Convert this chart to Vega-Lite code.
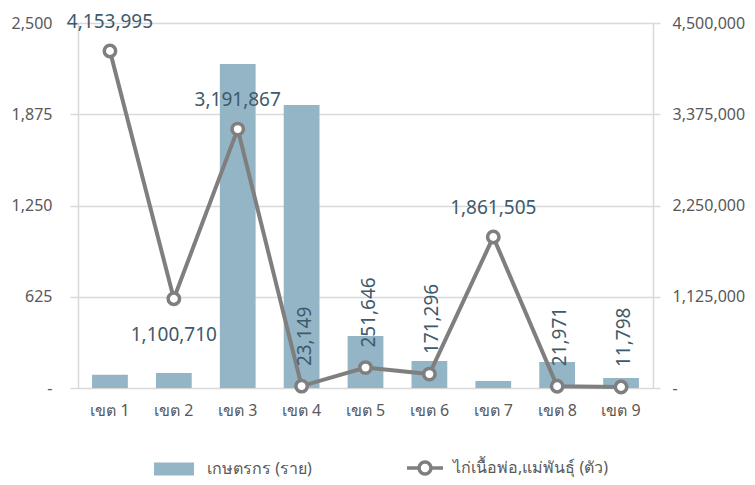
{
  "$schema": "https://vega.github.io/schema/vega-lite/v6.json",
  "autosize": "none",
  "width": 575,
  "height": 365,
  "padding": {"left": 78, "top": 23, "right": 102, "bottom": 97},
  "background": "white",
  "config": {
    "font": "Noto Sans",
    "view": {"stroke": null},
    "axis": {"labelFont": "Noto Sans", "labelColor": "#595959", "labelFontSize": 16}
  },
  "data": {
    "values": [
      {"region": "เขต 1", "farmers": 90, "chickens": 4153995, "pos": "above"},
      {"region": "เขต 2", "farmers": 103, "chickens": 1100710, "pos": "below"},
      {"region": "เขต 3", "farmers": 2220, "chickens": 3191867, "pos": "above"},
      {"region": "เขต 4", "farmers": 1938, "chickens": 23149, "pos": "vertical"},
      {"region": "เขต 5", "farmers": 356, "chickens": 251646, "pos": "vertical"},
      {"region": "เขต 6", "farmers": 185, "chickens": 171296, "pos": "vertical"},
      {"region": "เขต 7", "farmers": 48, "chickens": 1861505, "pos": "above"},
      {"region": "เขต 8", "farmers": 178, "chickens": 21971, "pos": "vertical"},
      {"region": "เขต 9", "farmers": 68, "chickens": 11798, "pos": "vertical"}
    ]
  },
  "encoding": {
    "x": {
      "field": "region", "type": "nominal", "sort": null, "title": null,
      "scale": {"paddingInner": 0.44, "paddingOuter": 0.22},
      "axis": {"domain": false, "ticks": false, "labelAngle": 0, "labelPadding": 14, "labelFontSize": 16}
    }
  },
  "layer": [
    {
      "mark": {"type": "bar"},
      "encoding": {
        "y": {
          "field": "farmers", "type": "quantitative", "title": null,
          "scale": {"domain": [0, 2500], "nice": false},
          "axis": {
            "orient": "left", "values": [0, 625, 1250, 1875, 2500],
            "labelExpr": "datum.value == 0 ? '-' : format(datum.value, ',')",
            "grid": true, "gridColor": "#d9d9d9", "gridWidth": 1.5,
            "domain": true, "domainColor": "#d9d9d9", "domainWidth": 1.5,
            "ticks": true, "tickSize": 8, "tickColor": "#d9d9d9", "tickWidth": 1.5,
            "labelPadding": 18
          }
        },
        "fill": {
          "datum": "เกษตรกร (ราย)", "type": "nominal",
          "scale": {"range": ["#93b5c6"]},
          "legend": {
            "orient": "none", "legendX": 75, "legendY": 425, "title": null,
            "symbolType": "M-1,-0.32H1V0.32H-1Z", "symbolSize": 1600,
            "labelFontSize": 16, "labelColor": "#595959", "labelFont": "Noto Sans", "labelOffset": 12
          }
        }
      }
    },
    {
      "layer": [
        {
          "mark": {"type": "line", "strokeWidth": 4},
          "encoding": {
            "y": {
              "field": "chickens", "type": "quantitative", "title": null,
              "scale": {"domain": [0, 4500000], "nice": false},
              "axis": {
                "orient": "right", "values": [0, 1125000, 2250000, 3375000, 4500000],
                "labelExpr": "datum.value == 0 ? '-' : format(datum.value, ',')",
                "grid": false,
                "domain": true, "domainColor": "#d9d9d9", "domainWidth": 1.5,
                "ticks": true, "tickSize": 7, "tickColor": "#d9d9d9", "tickWidth": 1.5,
                "labelPadding": 12
              }
            },
            "stroke": {
              "datum": "ไก่เนื้อพ่อ,แม่พันธุ์ (ตัว)", "type": "nominal",
              "scale": {"range": ["#7f7f7f"]},
              "legend": {
                "orient": "none", "legendX": 327, "legendY": 425, "title": null,
                "symbolType": "M-1,0H-0.33M0.33,0H1M-0.33,0A0.33,0.33 0 1,0 0.33,0A0.33,0.33 0 1,0 -0.33,0Z",
                "symbolSize": 1300, "symbolStrokeWidth": 3.5, "symbolFillColor": "white",
                "labelFontSize": 16, "labelColor": "#595959", "labelFont": "Noto Sans", "labelOffset": 8
              }
            }
          }
        },
        {
          "mark": {"type": "point", "filled": false, "fill": "white", "stroke": "#7f7f7f", "strokeWidth": 3.5, "size": 130, "opacity": 1},
          "encoding": {"y": {"field": "chickens", "type": "quantitative"}}
        },
        {
          "transform": [{"filter": "datum.pos == 'above'"}],
          "mark": {"type": "text", "dy": -29, "fontSize": 19, "color": "#3f5a6b", "baseline": "middle"},
          "encoding": {
            "y": {"field": "chickens", "type": "quantitative"},
            "text": {"field": "chickens", "type": "quantitative", "format": ","}
          }
        },
        {
          "transform": [{"filter": "datum.pos == 'below'"}],
          "mark": {"type": "text", "dy": 36, "fontSize": 19, "color": "#3f5a6b", "baseline": "middle"},
          "encoding": {
            "y": {"field": "chickens", "type": "quantitative"},
            "text": {"field": "chickens", "type": "quantitative", "format": ","}
          }
        },
        {
          "transform": [{"filter": "datum.pos == 'vertical'"}],
          "mark": {"type": "text", "angle": 270, "align": "left", "baseline": "middle", "dx": 20, "dy": 3, "fontSize": 19, "color": "#3f5a6b"},
          "encoding": {
            "y": {"field": "chickens", "type": "quantitative"},
            "text": {"field": "chickens", "type": "quantitative", "format": ","}
          }
        }
      ]
    }
  ],
  "resolve": {"scale": {"y": "independent", "fill": "independent", "stroke": "independent"}}
}
